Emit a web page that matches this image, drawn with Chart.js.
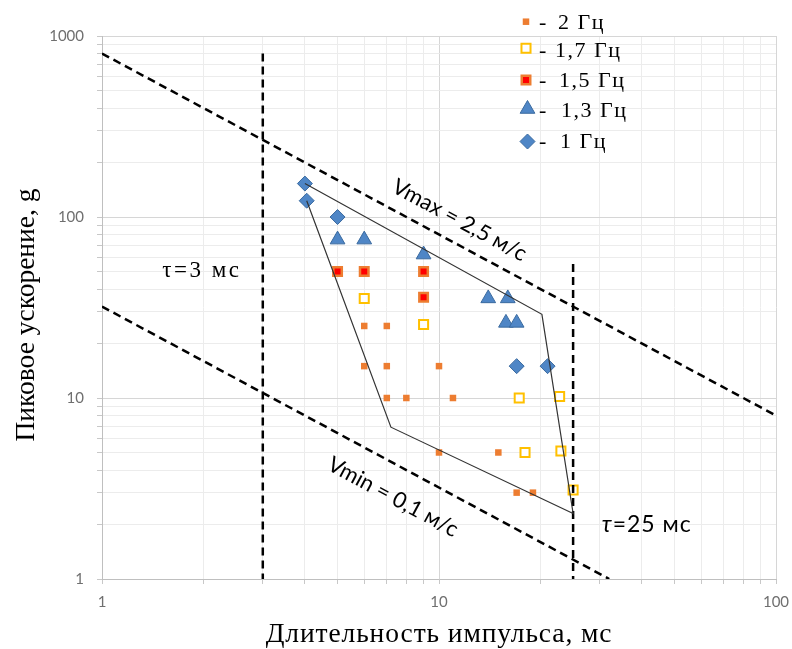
<!DOCTYPE html>
<html>
<head>
<meta charset="utf-8">
<script src="https://cdn.jsdelivr.net/npm/chart.js@4"></script>
<style>
  body { margin: 0; background: #fff; }
  #wrap { width: 792px; height: 649px; }
</style>
</head>
<body>
<div id="wrap"><canvas id="myChart"></canvas></div>
<script>
// measured points, x = pulse length (ms), y = peak acceleration (g)
const hz2X = [6, 7, 6, 7, 7, 8, 11, 10, 10, 15, 17, 19];
const hz2Y = [25, 25, 15, 15, 10, 10, 10, 15, 5, 5, 3, 3];
const hz17X = [6, 9, 17.3, 22.8, 18, 23, 25];
const hz17Y = [35.5, 25.5, 10, 10.2, 5, 5.1, 3.1];
const hz15X = [5, 6, 9, 9];
const hz15Y = [50, 50, 50, 36];
const hz13X = [5, 6, 9, 14, 16, 15.8, 17];
const hz13Y = [75, 75, 62, 35.5, 35.5, 26, 26];
const hz1X = [4, 4.05, 5, 17, 21];
const hz1Y = [153, 123, 100, 15, 15];

// outline of the test area
const polyX = [4, 20.2, 25, 7.2, 4.05];
const polyY = [153, 29, 2.3, 6.9, 123];

// limit lines
const vmaxX = [1, 100];
const vmaxY = [800, 8];
const vminX = [1, 32];
const vminY = [32, 1];
const tau3X = [3, 3];
const tau3Y = [800, 1];
const tau25X = [25, 25];
const tau25Y = [55, 1];

// axis labels
const xTickLabels = [1, 10, 100];
const yTickLabels = [1, 10, 100, 1000];
const xTitle = 'Длительность импульса, мс';
const yTitle = 'Пиковое ускорение, g';

const legendNames = ['2 Гц', '1,7 Гц', '1,5 Гц', '1,3 Гц', '1 Гц'];

function pts(xs, ys) {
  return xs.map((v, i) => ({x: v, y: ys[i]}));
}

// all log grid values between first and last label
function gridValues(labels) {
  const out = [];
  for (let i = 0; i < labels.length - 1; i++) {
    for (let k = 1; k < 10; k++) out.push(labels[i] * k);
  }
  out.push(labels[labels.length - 1]);
  return out;
}

function isMajor(v) {
  const l = Math.log10(v);
  return Math.abs(l - Math.round(l)) < 1e-9;
}

const dashed = {
  type: 'line', borderColor: '#000', borderWidth: 2.5, borderDash: [8, 5],
  pointRadius: 0, fill: false, order: 1
};

const blueFill = '#4F86C6';
const blueLine = '#3A6A9F';

const markerStyles = [
  {pointStyle: 'rect', pointRadius: 4.6, backgroundColor: '#ED7D31', borderColor: '#ED7D31', borderWidth: 0},
  {pointStyle: 'rect', pointRadius: 6.4, backgroundColor: '#fff', borderColor: '#FFC000', borderWidth: 2},
  {pointStyle: 'rect', pointRadius: 6, backgroundColor: '#FF0000', borderColor: '#ED7D31', borderWidth: 2.5},
  {pointStyle: 'triangle', pointRadius: 8.5, backgroundColor: blueFill, borderColor: blueLine, borderWidth: 1},
  {pointStyle: 'rectRot', pointRadius: 7.5, backgroundColor: blueFill, borderColor: blueLine, borderWidth: 1}
];

function drawMarker(ctx, s, x, y) {
  const r = s.pointRadius;
  ctx.save();
  ctx.beginPath();
  if (s.pointStyle === 'rect') {
    const h = r * Math.SQRT1_2;
    ctx.rect(x - h, y - h, 2 * h, 2 * h);
  } else if (s.pointStyle === 'triangle') {
    for (let i = 0; i < 3; i++) {
      const a = i * 2 * Math.PI / 3;
      ctx[i ? 'lineTo' : 'moveTo'](x + Math.sin(a) * r, y - Math.cos(a) * r);
    }
    ctx.closePath();
  } else {
    ctx.moveTo(x - r, y); ctx.lineTo(x, y - r); ctx.lineTo(x + r, y); ctx.lineTo(x, y + r);
    ctx.closePath();
  }
  ctx.fillStyle = s.backgroundColor;
  ctx.fill();
  if (s.borderWidth) {
    ctx.lineWidth = s.borderWidth;
    ctx.strokeStyle = s.borderColor;
    ctx.stroke();
  }
  ctx.restore();
}

// text labels on the plot, axis titles and the legend box
const notesPlugin = {
  id: 'notes',
  afterDraw(chart) {
    const {ctx, scales: {x, y}, chartArea: area} = chart;
    const ang = Math.atan2(y.getPixelForValue(8) - y.getPixelForValue(800),
                           x.getPixelForValue(100) - x.getPixelForValue(1));
    ctx.save();
    ctx.fillStyle = '#000';

    // axis titles
    ctx.font = '27.5px "Liberation Serif"';
    ctx.textBaseline = 'alphabetic';
    ctx.textAlign = 'center';
    ctx.letterSpacing = '0.9px';
    ctx.fillText(xTitle, (area.left + area.right) / 2, 641.7);
    ctx.letterSpacing = '0px';
    ctx.save();
    ctx.translate(33.5, 315);
    ctx.rotate(-Math.PI / 2);
    ctx.fillText(yTitle, 0, 0);
    ctx.restore();

    ctx.textAlign = 'left';
    ctx.font = '23px "Liberation Serif"';
    ctx.letterSpacing = '2.5px';
    ctx.fillText('τ=3 мс', x.getPixelForValue(1.51), y.getPixelForValue(46.8));

    ctx.letterSpacing = '1px';
    let tx = x.getPixelForValue(30.4);
    const ty = y.getPixelForValue(1.825);
    ctx.font = 'italic 23px Lato';
    ctx.fillText('τ', tx, ty);
    tx += ctx.measureText('τ').width;
    ctx.font = '23px Lato';
    ctx.fillText('=25 мс', tx, ty);
    ctx.letterSpacing = '0px';

    ctx.font = '22px Lato';
    ctx.textAlign = 'center';
    ctx.textBaseline = 'middle';
    [['Vmax = 2,5 м/с', 11.5, 96], ['Vmin = 0,1 м/с', 7.3, 2.84]].forEach(t => {
      ctx.save();
      ctx.translate(x.getPixelForValue(t[1]), y.getPixelForValue(t[2]));
      ctx.rotate(ang);
      ctx.fillText(t[0], 0, 0);
      ctx.restore();
    });

    // legend
    const markX = [526, 526, 526, 527.5, 527.5];
    const rows = [21.7, 48.3, 80, 109, 141.5];
    const base = [29.3, 57.3, 87.3, 116.7, 148.3];
    const textX = [558, 555, 559, 561, 560];
    ctx.font = '22px "Liberation Serif"';
    ctx.textAlign = 'left';
    ctx.textBaseline = 'alphabetic';
    legendNames.forEach((name, i) => {
      drawMarker(ctx, markerStyles[i], markX[i], rows[i]);
      ctx.letterSpacing = '0px';
      ctx.fillText('-', 539, base[i]);
      ctx.letterSpacing = '1.5px';
      ctx.fillText(name, textX[i], base[i]);
    });
    ctx.restore();
  }
};

const gridColor = ctx => (ctx.tick && isMajor(ctx.tick.value)) ? '#d6d6d6' : '#ececec';

const chart = new Chart(document.getElementById('myChart'), {
  type: 'scatter',
  data: {
    datasets: [
      {data: pts(polyX, polyY), type: 'line', borderColor: '#333', borderWidth: 1.2,
        pointRadius: 0, fill: false, order: 0},
      Object.assign({data: pts(vmaxX, vmaxY)}, dashed),
      Object.assign({data: pts(vminX, vminY)}, dashed),
      Object.assign({data: pts(tau3X, tau3Y)}, dashed),
      Object.assign({data: pts(tau25X, tau25Y)}, dashed),
      Object.assign({label: legendNames[0], data: pts(hz2X, hz2Y), order: 6}, markerStyles[0]),
      Object.assign({label: legendNames[1], data: pts(hz17X, hz17Y), order: 5}, markerStyles[1]),
      Object.assign({label: legendNames[2], data: pts(hz15X, hz15Y), order: 4}, markerStyles[2]),
      Object.assign({label: legendNames[3], data: pts(hz13X, hz13Y), order: 3}, markerStyles[3]),
      Object.assign({label: legendNames[4], data: pts(hz1X, hz1Y), order: 2}, markerStyles[4])
    ]
  },
  options: {
    responsive: true,
    maintainAspectRatio: false,
    animation: false,
    layout: {padding: {top: 36, right: 16, left: 0, bottom: 0}},
    plugins: {legend: {display: false}, tooltip: {enabled: false}},
    scales: {
      x: {
        type: 'logarithmic', min: 1, max: 100,
        afterBuildTicks: s => { s.ticks = gridValues(xTickLabels).map(v => ({value: v})); },
        afterFit: s => { s.height = 70; s.paddingLeft = 0; s.paddingRight = 0; },
        border: {color: '#bfbfbf', width: 1},
        grid: {color: gridColor, tickColor: '#c8c8c8', tickLength: 5},
        ticks: {
          autoSkip: false, maxRotation: 0, padding: 9, color: '#6f6f6f',
          font: {family: 'Lato', size: 15},
          callback: v => xTickLabels.includes(v) ? String(v) : ''
        }
      },
      y: {
        type: 'logarithmic', min: 1, max: 1000,
        afterBuildTicks: s => { s.ticks = gridValues(yTickLabels).map(v => ({value: v})); },
        afterFit: s => { s.width = 102; s.paddingTop = 0; s.paddingBottom = 0; },
        border: {color: '#bfbfbf', width: 1},
        grid: {color: gridColor, tickColor: '#c8c8c8', tickLength: 5},
        ticks: {
          autoSkip: false, padding: 13, color: '#6f6f6f',
          font: {family: 'Lato', size: 15},
          callback: v => yTickLabels.includes(v) ? String(v) : ''
        }
      }
    }
  },
  plugins: [notesPlugin]
});
</script>
</body>
</html>
